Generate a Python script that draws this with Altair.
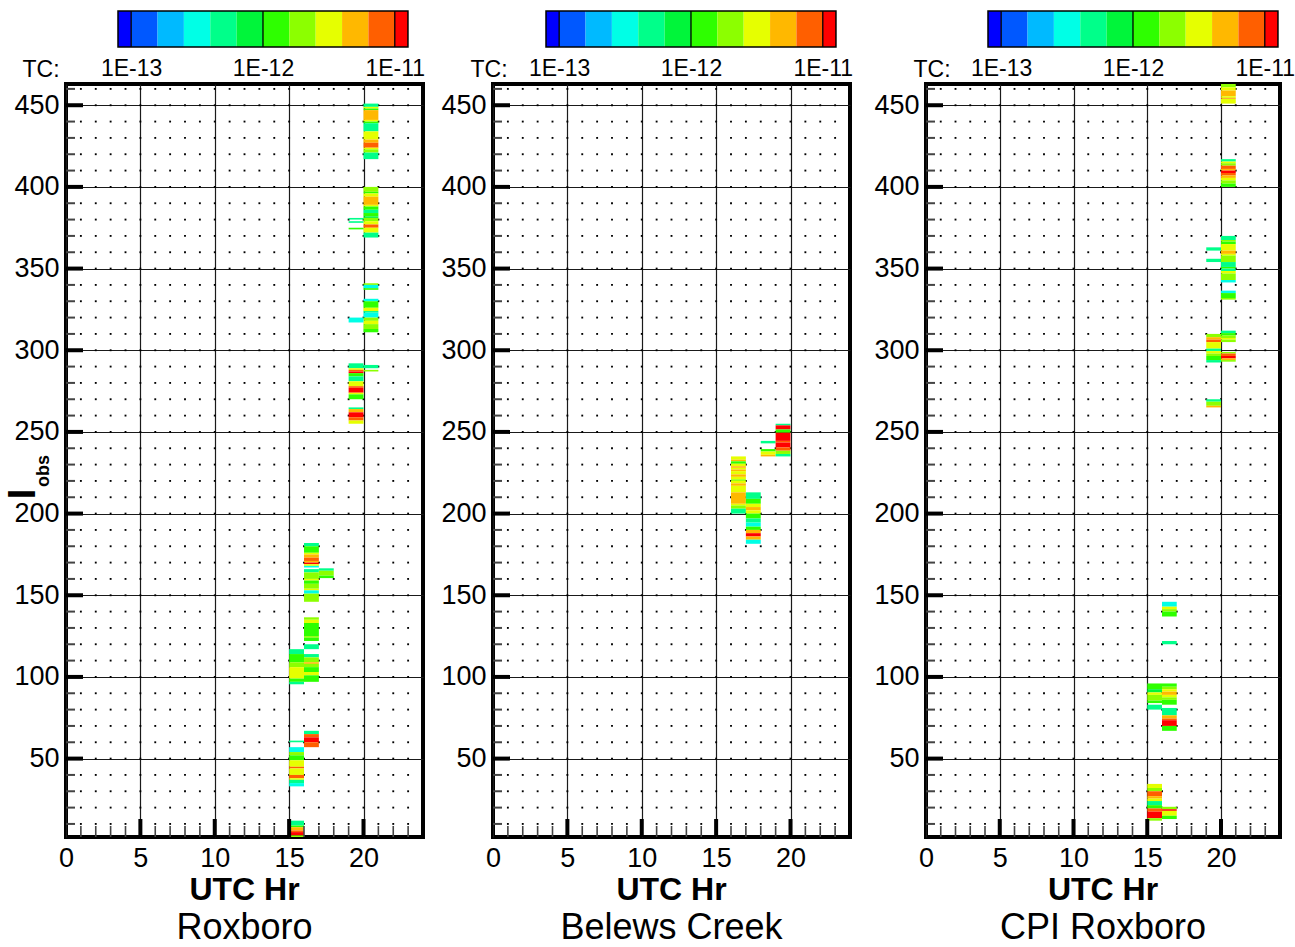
import altair as alt
import pandas as pd

# ---------------- data ----------------
SITES = ["Roxboro", "Belews Creek", "CPI Roxboro"]
X_LABELS = [0, 5, 10, 15, 20]
X_MAJOR = [5, 10, 15, 20]
X_MINOR = [1, 2, 3, 4, 6, 7, 8, 9, 11, 12, 13, 14, 16, 17, 18, 19, 21, 22, 23]
Y_MAJOR = [50, 100, 150, 200, 250, 300, 350, 400, 450]
Y_MINOR = [v for v in range(10, 461, 10) if v % 50 != 0]
DOT_X = list(range(1, 24))
DOT_Y = list(range(10, 461, 10))

# colour bar (log10 TC)
CB_EDGES = [-13.1, -13.0, -12.8, -12.6, -12.4, -12.2, -12.0, -11.8, -11.6, -11.4, -11.2, -11.0, -10.9]
CB_THRESH = [-13.0, -12.8, -12.6, -12.4, -12.2, -12.0, -11.8, -11.6, -11.4, -11.2, -11.0]
CB_COLORS = ["#0000FF", "#0058FF", "#00BAFF", "#00FFE6", "#00FF8A", "#00F53A",
             "#2EFF00", "#8CFF00", "#E6FF00", "#FFB800", "#FF5F00", "#FF0000"]
CB_MAJOR = [-13, -12, -11]

# runs: (UTC hour bin, I_obs low, I_obs high, log10 TC)
ROXBORO = [
    (20, 449, 451, -12.3), (20, 448, 449, -11.5), (20, 447, 448, -11.9), (20, 441, 447, -11.3),
    (20, 440, 441, -11.5), (20, 439, 440, -11.9), (20, 434, 439, -12.3), (20, 429, 434, -11.5),
    (20, 427, 429, -11.3), (20, 424, 427, -11.1), (20, 423, 424, -11.5), (20, 421, 423, -11.7),
    (20, 417, 421, -12.3),
    (20, 397, 400, -11.7), (20, 396, 397, -11.9), (20, 394, 396, -11.5), (20, 389, 394, -11.3),
    (20, 388, 389, -11.5), (20, 386, 388, -11.9), (20, 384, 386, -12.3), (20, 382, 384, -11.9),
    (20, 381, 382, -12.1), (20, 379, 381, -11.7), (20, 377, 379, -11.5), (20, 375, 377, -11.1),
    (20, 372, 375, -11.5), (20, 369, 372, -12.3),
    (20, 340, 341, -11.7), (20, 338, 340, -12.5), (20, 337, 338, -11.9), (20, 330, 331.5, -12.5),
    (20, 326, 330, -11.9), (20, 324, 326, -11.5), (20, 323, 324, -12.3), (20, 320, 323, -12.5),
    (20, 318, 320, -11.7), (20, 316, 318, -11.5), (20, 313, 316, -11.7), (20, 311, 313, -11.9),
    (20, 289, 291, -12.3), (20, 287, 288, -11.7),
    (19, 380, 381, -12.3), (19, 378, 379, -12.3), (19, 374, 375, -11.9),
    (19, 317, 320, -12.5),
    (19, 289, 292, -12.3), (19, 288, 289, -11.5), (19, 287, 288, -11.1), (19, 286, 287, -10.9),
    (19, 284, 286, -11.9), (19, 281, 284, -12.3), (19, 278, 281, -11.5), (19, 277, 278, -11.1),
    (19, 274, 277, -10.9), (19, 273, 274, -11.5), (19, 270, 273, -11.9),
    (19, 264, 265, -12.3), (19, 262, 264, -11.3), (19, 259, 262, -10.9), (19, 257, 259, -11.1),
    (19, 255, 257, -11.5),
    (16, 180, 182, -12.3), (16, 176, 180, -11.9), (16, 175, 176, -11.5), (16, 173, 175, -11.3),
    (16, 171, 173, -11.1), (16, 170, 171, -11.3), (16, 169, 170, -10.9), (16, 168, 169, -11.5),
    (16, 167, 168, -12.5), (16, 164, 166, -12.3), (16, 160, 164, -11.7), (16, 159, 160, -11.5),
    (16, 157, 159, -11.9), (16, 154, 157, -11.7), (16, 153, 154, -11.5), (16, 151, 153, -12.5),
    (16, 146, 151, -11.7),
    (16, 135, 136.5, -11.7), (16, 133, 135, -11.5), (16, 125, 133, -11.9), (16, 124, 125, -11.7),
    (16, 122, 124, -11.9), (16, 117, 120, -12.3), (16, 112, 114, -12.3), (16, 109, 112, -11.7),
    (16, 108, 109, -11.3), (16, 106, 108, -11.7), (16, 103, 106, -11.9), (16, 101, 103, -11.5),
    (16, 97, 101, -11.9),
    (16, 65, 67, -12.3), (16, 63, 65, -11.1), (16, 60, 63, -10.9), (16, 57, 60, -11.1),
    (17, 165, 166.5, -12.3), (17, 162, 165, -11.7), (17, 160.5, 162, -11.9),
    (15, 114, 117, -12.3), (15, 109, 114, -11.9), (15, 106, 109, -11.7), (15, 99, 106, -11.5),
    (15, 97, 99, -11.9), (15, 95.5, 97, -12.3),
    (15, 60, 61, -12.3), (15, 54, 57, -12.5), (15, 52, 54, -11.7), (15, 49, 52, -11.9),
    (15, 45, 49, -11.5), (15, 44, 45, -11.1), (15, 40, 44, -11.5), (15, 38, 40, -11.1),
    (15, 37, 38, -11.5), (15, 35, 37, -12.3), (15, 33, 35, -12.5),
    (15, 9, 12, -12.3), (15, 8, 9, -11.9), (15, 6, 8, -11.3), (15, 5, 6, -11.1),
    (15, 3, 5, -10.9), (15, 2, 3, -11.7),
]
BELEWS = [
    (16, 233, 235, -11.5), (16, 232, 233, -11.3), (16, 230.5, 232, -11.9), (16, 229, 230.5, -11.5),
    (16, 228, 229, -11.3), (16, 227, 228, -11.5), (16, 226, 227, -11.3), (16, 224, 226, -11.5),
    (16, 222.5, 224, -11.3), (16, 221, 222.5, -11.5), (16, 220, 221, -11.7), (16, 218.5, 220, -11.5),
    (16, 217, 218.5, -11.3), (16, 213, 217, -11.5), (16, 206, 213, -11.3), (16, 205, 206, -11.5),
    (16, 203, 205, -11.7), (16, 200, 203, -12.3),
    (17, 209, 213, -12.3), (17, 206, 209, -11.9), (17, 204, 206, -11.5), (17, 202, 204, -11.3),
    (17, 200, 202, -11.5), (17, 197, 200, -11.9), (17, 194.5, 197, -12.3), (17, 192, 194.5, -12.5),
    (17, 190, 192, -11.9), (17, 188, 190, -11.3), (17, 186, 188, -10.9), (17, 184, 186, -11.3),
    (17, 181.5, 184, -12.5),
    (18, 243, 244.5, -12.3), (18, 238, 239.5, -11.9), (18, 236, 238, -11.5), (18, 235, 236, -11.3),
    (19, 254, 255, -12.3), (19, 251.5, 254, -10.9), (19, 249.5, 251.5, -11.9), (19, 244.5, 249.5, -10.9),
    (19, 243.5, 244.5, -11.1), (19, 240.5, 243.5, -10.9), (19, 238.5, 240.5, -11.1),
    (19, 236.5, 238.5, -11.7), (19, 235, 236.5, -12.3),
]
CPI = [
    (20, 461, 463, -11.7), (20, 459, 461, -11.5), (20, 455.5, 459, -11.3), (20, 454.5, 455.5, -11.5),
    (20, 454, 454.5, -11.1), (20, 451, 454, -11.5),
    (20, 415.5, 417, -12.3), (20, 414.5, 415.5, -11.5), (20, 413, 414.5, -11.7), (20, 411, 413, -11.1),
    (20, 410, 411, -11.3), (20, 408.5, 410, -10.9), (20, 407, 408.5, -11.1), (20, 405.5, 407, -11.3),
    (20, 404, 405.5, -11.5), (20, 402, 404, -11.7), (20, 400, 402, -11.9),
    (20, 367.5, 370, -12.3), (20, 366.5, 367.5, -11.7), (20, 365, 366.5, -11.9), (20, 361, 365, -11.5),
    (20, 359, 361, -11.3), (20, 358, 359, -11.5), (20, 354, 358, -11.7), (20, 351, 354, -12.3),
    (20, 350, 351, -11.9), (20, 348.5, 350, -12.3), (20, 347, 348.5, -11.5), (20, 343, 347, -11.7),
    (20, 341.5, 343, -12.5),
    (20, 335, 336.5, -12.5), (20, 332, 335, -11.9), (20, 331, 332, -11.7),
    (20, 310.5, 312, -12.3), (20, 309, 310.5, -11.9), (20, 307.5, 309, -11.7), (20, 306.5, 307.5, -11.5),
    (20, 305, 306.5, -11.7),
    (20, 298, 299, -11.7), (20, 296.5, 298, -11.1), (20, 295, 296.5, -10.9), (20, 294, 295, -11.3),
    (20, 293, 294, -11.7),
    (19, 361, 363, -12.3), (19, 354, 356, -12.3),
    (19, 308, 310, -11.7), (19, 306.5, 308, -11.3), (19, 305, 306.5, -11.1), (19, 301, 305, -11.5),
    (19, 299.5, 301, -12.3), (19, 298, 299.5, -11.5), (19, 296.5, 298, -11.7), (19, 294, 296.5, -11.9),
    (19, 292.5, 294, -12.3),
    (19, 268.5, 270, -12.3), (19, 266, 268.5, -11.7), (19, 265, 266, -11.3),
    (16, 143, 146, -12.5), (16, 141.5, 143, -11.5), (16, 140, 141.5, -11.7), (16, 137, 140, -11.9),
    (16, 120, 122, -12.3),
    (16, 94, 96, -11.9), (16, 92.5, 94, -11.7), (16, 91, 92.5, -11.5), (16, 89, 91, -11.3),
    (16, 87.5, 89, -11.5), (16, 86, 87.5, -11.7), (16, 83, 86, -11.9),
    (16, 76.5, 81, -12.3), (16, 74.5, 76.5, -11.3), (16, 73.5, 74.5, -11.1), (16, 70, 73.5, -10.9),
    (16, 67, 70, -11.9),
    (16, 19, 20.5, -11.7), (16, 18, 19, -10.9), (16, 15, 18, -11.5), (16, 13, 15, -11.9),
    (15, 92.5, 96, -11.9), (15, 90.5, 92.5, -12.1), (15, 89, 90.5, -11.5), (15, 85.5, 89, -11.7),
    (15, 84, 85.5, -11.9), (15, 80, 83, -12.3),
    (15, 32, 34.5, -11.5), (15, 30, 32, -11.7), (15, 27, 30, -11.1), (15, 25.5, 27, -11.3),
    (15, 24, 25.5, -11.5), (15, 21.5, 24, -12.3), (15, 19.5, 21.5, -11.9), (15, 17.5, 19.5, -11.1),
    (15, 13.5, 17.5, -10.9), (15, 12, 13.5, -11.7),
]
RUNS = [ROXBORO, BELEWS, CPI]

# ---------------- layout ----------------
FONT = "Liberation Sans"
W = [357, 357, 354]          # plot widths
CB_W = [357, 363, 354]       # colour-bar view widths (also set column widths)
H = 753
CB_H = 36
CB_OFF = [52, 53, 62]        # colour bar left offset from plot left (px)
TC_X = [-25, -4, 6]          # "TC:" centre relative to plot left (px)
PX_PER_DEC = 131.8
X_DOM = [0, 24]
Y_DOM = [2, 463]

cscale = alt.Scale(type="threshold", domain=CB_THRESH, range=CB_COLORS)

cb_df = pd.DataFrame({"lo": CB_EDGES[:-1], "hi": CB_EDGES[1:]})
cb_df["mid"] = (cb_df["lo"] + cb_df["hi"]) / 2
cb_frame = pd.DataFrame({"lo": [CB_EDGES[0]], "hi": [CB_EDGES[-1]]})
cb_major = pd.DataFrame({"v": CB_MAJOR})

dots = pd.DataFrame([(x, y) for x in DOT_X for y in DOT_Y], columns=["x", "y"])
xmaj = pd.DataFrame({"v": X_MAJOR})
xmin = pd.DataFrame({"v": X_MINOR})
ymaj = pd.DataFrame({"v": Y_MAJOR})
ymin = pd.DataFrame({"v": Y_MINOR})


def colorbar(k):
    x0 = CB_EDGES[0] - CB_OFF[k] / PX_PER_DEC
    x1 = x0 + CB_W[k] / PX_PER_DEC
    xs = alt.Scale(domain=[x0, x1], nice=False, zero=False)
    bands = alt.Chart(cb_df).mark_rect(strokeWidth=0).encode(
        x=alt.X("lo:Q", scale=xs, axis=alt.Axis(
            values=CB_MAJOR, labelExpr="'1E' + datum.value", title=None,
            domain=False, ticks=False, tickSize=0, grid=False, labelFont=FONT,
            labelFontSize=23, labelColor="black", labelPadding=10,
            labelFlush=False, labelOverlap=False)),
        x2="hi:Q",
        y=alt.value(0), y2=alt.value(CB_H),
        color=alt.Color("mid:Q", scale=cscale, legend=None),
    )
    divs = alt.Chart(cb_major).mark_rule(color="black", strokeWidth=1.3).encode(
        x=alt.X("v:Q", scale=xs), y=alt.value(0), y2=alt.value(CB_H))
    frame = alt.Chart(cb_frame).mark_rect(fillOpacity=0, stroke="black", strokeWidth=1.5).encode(
        x=alt.X("lo:Q", scale=xs), x2="hi:Q", y=alt.value(0), y2=alt.value(CB_H))
    tc = alt.Chart(pd.DataFrame({"t": ["TC:"]})).mark_text(
        font=FONT, fontSize=23, baseline="alphabetic", align="center", color="black").encode(
        x=alt.value(TC_X[k]), y=alt.value(66), text="t:N")
    return alt.layer(bands, divs, frame, tc).properties(
        width=CB_W[k], height=CB_H, view=alt.ViewBackground(stroke="transparent"))


def panel(k):
    xs = alt.Scale(domain=X_DOM, nice=False, zero=False)
    ys = alt.Scale(domain=Y_DOM, nice=False, zero=False)
    w = W[k]
    dot = alt.Chart(dots).mark_square(size=3.5, color="black", opacity=1).encode(
        x=alt.X("x:Q", scale=xs, axis=alt.Axis(
            values=X_LABELS, title=None, domain=False, ticks=False, tickSize=0,
            grid=True, gridColor="#1a1a1a", gridWidth=1.2, labelFont=FONT,
            labelFontSize=27, labelColor="black", labelPadding=8, labelFlush=False)),
        y=alt.Y("y:Q", scale=ys, axis=alt.Axis(
            values=Y_MAJOR, title=None, domain=False, ticks=False, tickSize=0,
            grid=True, gridColor="#1a1a1a", gridWidth=1.2, labelFont=FONT,
            labelFontSize=27, labelColor="black", labelPadding=7, labelFlush=False)),
    )
    df = pd.DataFrame(RUNS[k], columns=["hr", "lo", "hi", "tc"])
    rects = alt.Chart(df).transform_calculate(hr_end="datum.hr + 1").mark_rect(strokeWidth=0).encode(
        x=alt.X("hr:Q", scale=xs), x2="hr_end:Q",
        y=alt.Y("lo:Q", scale=ys), y2="hi:Q",
        color=alt.Color("tc:Q", scale=cscale, legend=None),
    )
    bmaj = alt.Chart(xmaj).mark_rule(color="black", strokeWidth=4).encode(
        x=alt.X("v:Q", scale=xs), y=alt.value(H), y2=alt.value(H - 18))
    bmin = alt.Chart(xmin).mark_rule(color="#444444", strokeWidth=1.6).encode(
        x=alt.X("v:Q", scale=xs), y=alt.value(H), y2=alt.value(H - 11))
    lmaj = alt.Chart(ymaj).mark_rule(color="black", strokeWidth=4).encode(
        y=alt.Y("v:Q", scale=ys), x=alt.value(0), x2=alt.value(17))
    lmin = alt.Chart(ymin).mark_rule(color="#444444", strokeWidth=2).encode(
        y=alt.Y("v:Q", scale=ys), x=alt.value(0), x2=alt.value(9))
    xt = alt.Chart(pd.DataFrame({"t": ["UTC Hr"]})).mark_text(
        font=FONT, fontSize=32, fontWeight="bold", baseline="middle", align="center", color="black").encode(
        x=alt.value(w / 2), y=alt.value(H + 53), text="t:N")
    st = alt.Chart(pd.DataFrame({"t": [SITES[k]]})).mark_text(
        font=FONT, fontSize=36, baseline="middle", align="center", color="black").encode(
        x=alt.value(w / 2), y=alt.value(H + 91), text="t:N")
    layers = [dot, rects, bmaj, bmin, lmaj, lmin, xt, st]
    if k == 0:
        yt1 = alt.Chart(pd.DataFrame({"t": ["I"]})).mark_text(
            font=FONT, fontSize=38, fontWeight="bold", angle=270, baseline="middle",
            align="center", color="black").encode(x=alt.value(-42), y=alt.value(410), text="t:N")
        yt2 = alt.Chart(pd.DataFrame({"t": ["obs"]})).mark_text(
            font=FONT, fontSize=18, fontWeight="bold", angle=270, baseline="middle",
            align="center", color="black").encode(x=alt.value(-22), y=alt.value(387), text="t:N")
        layers += [yt1, yt2]
    return alt.layer(*layers).properties(
        width=w, height=H, view=alt.ViewBackground(stroke="black", strokeWidth=4))


cells = [colorbar(k) for k in range(3)] + [panel(k) for k in range(3)]
chart = alt.concat(
    *cells, columns=3, spacing=alt.RowColnumber(row=37, column=70),
    bounds="flush", align="each",
).properties(
    padding={"left": 3, "top": 10, "right": 0, "bottom": 0},
    background="white",
).configure_view(strokeWidth=0)

chart.save("out.html", embed_options={"renderer": "svg", "actions": False})
